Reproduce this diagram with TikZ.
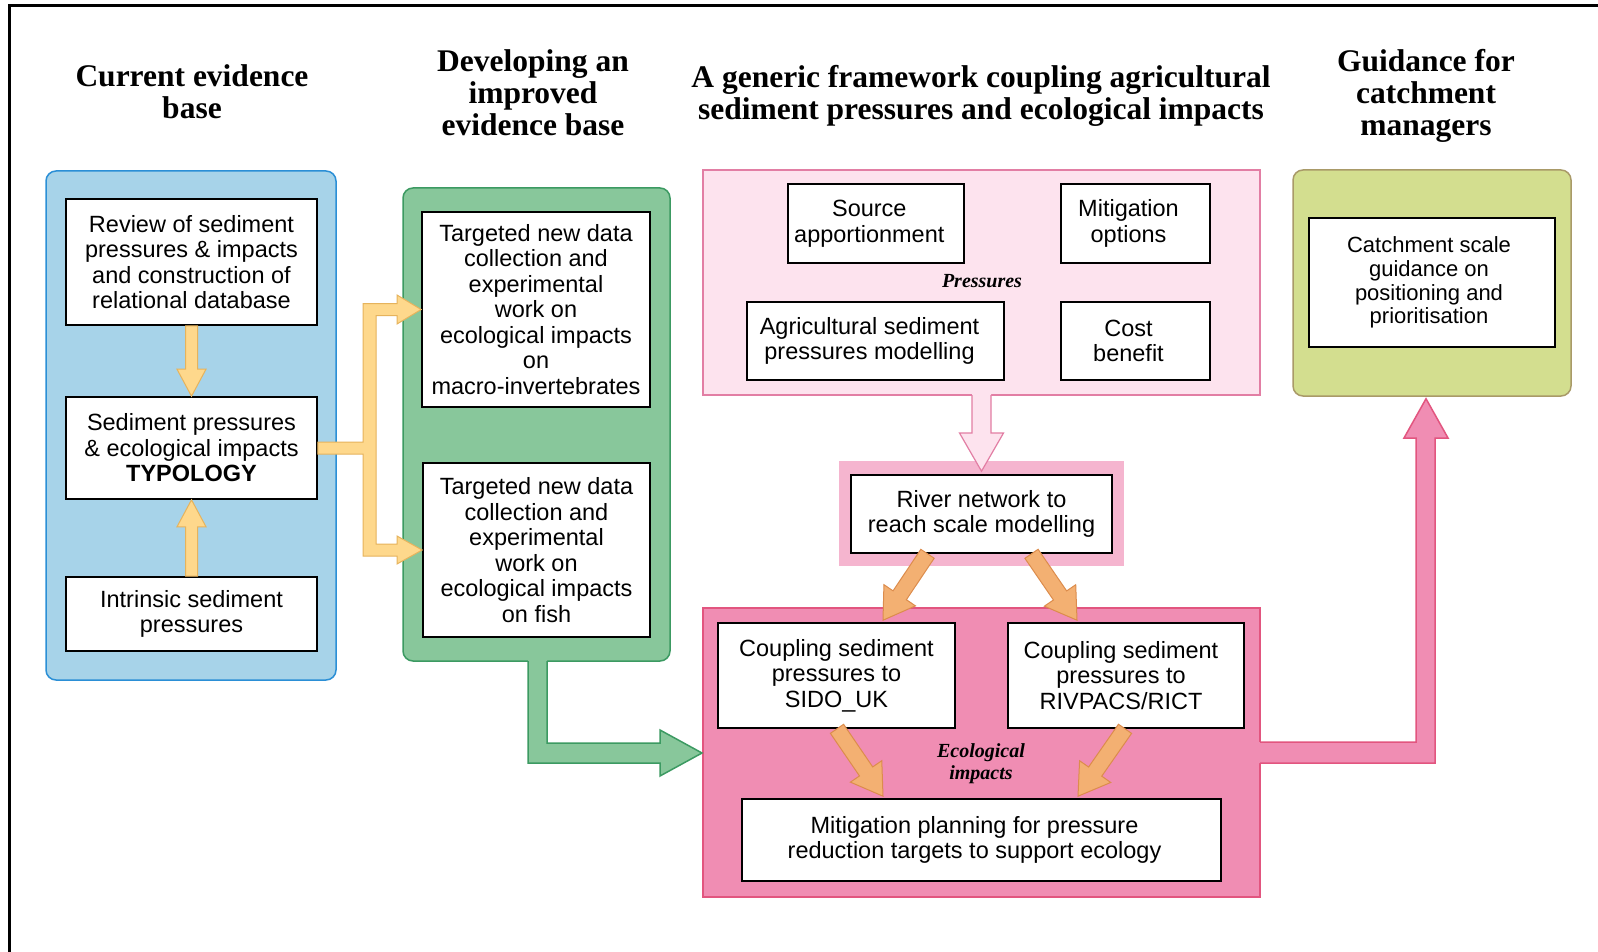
\documentclass[tikz,border=0pt]{standalone}
\usepackage{fontspec}
\setmainfont{Liberation Serif}
\setsansfont{Liberation Sans}
\usetikzlibrary{calc}
\definecolor{bluefill}{HTML}{A7D3E9}
\definecolor{bluedraw}{HTML}{2B8FD6}
\definecolor{greenfill}{HTML}{88C79B}
\definecolor{greendraw}{HTML}{3C9A62}
\definecolor{prfill}{HTML}{FDE3EE}
\definecolor{prdraw}{HTML}{E27EA4}
\definecolor{riverband}{HTML}{F5B5CF}
\definecolor{ecofill}{HTML}{F08DB3}
\definecolor{ecodraw}{HTML}{E2557F}
\definecolor{guidefill}{HTML}{D3DE8F}
\definecolor{guidedraw}{HTML}{A99A68}
\definecolor{yelfill}{HTML}{FED88C}
\definecolor{yeldraw}{HTML}{E6B35C}
\definecolor{orafill}{HTML}{F3B072}
\definecolor{oradraw}{HTML}{DC8C4C}
\newcommand\fatarr[6]{%
  \coordinate (fac) at ($(#3)!#6!(#2)$);
  \filldraw[#1] ($(#2)!#4!90:(#3)$) -- ($(fac)!#4!90:(#3)$) -- ($(fac)!#5!90:(#3)$) -- (#3)
    -- ($(fac)!#5!-90:(#3)$) -- ($(fac)!#4!-90:(#3)$) -- ($(#2)!#4!-90:(#3)$) -- cycle;}
\tikzset{
  box/.style={draw=black, line width=1.6pt, fill=white, align=center, inner sep=0pt,
    font=\sffamily\fontsize{23.5}{25.5}\selectfont},
  txt/.style={align=center, inner sep=0pt, font=\sffamily\fontsize{23.5}{25.5}\selectfont},
  hdr/.style={align=center, inner sep=0pt, font=\bfseries\fontsize{31.5}{32}\selectfont},
  lbl/.style={align=center, inner sep=0pt, font=\bfseries\itshape\fontsize{20}{22}\selectfont},
  bg/.style={inner sep=0pt, line width=1.5pt},
  yarr/.style={fill=yelfill, draw=yeldraw, line width=1pt, line join=miter},
  oarr/.style={fill=orafill, draw=oradraw, line width=1pt, line join=miter},
}
\begin{document}
\begin{tikzpicture}[x=1pt,y=-1pt]
\useasboundingbox (0,0) rectangle (1598,952);
\fill[white] (0,0) rectangle (1598,952);
\draw[line width=2.8pt] (9.7,952) -- (9.7,5.3) -- (1598,5.3);

% headers
\node[hdr] (h1) at (192,92) {Current evidence\\base};
\node[hdr] (h2) at (533,93) {Developing an\\improved\\evidence base};
\node[hdr] (h3) at (981,95.5) {A generic framework coupling agricultural\\sediment pressures and ecological impacts};
\node[hdr] (h4) at (1426,95.5) {Guidance for\\catchment\\managers};

% backgrounds
\node[bg, draw=bluedraw, fill=bluefill, rounded corners=10pt, minimum width=290pt, minimum height=509pt] (bluebox) at (191,425.5) {};
\node[bg, draw=greendraw, fill=greenfill, rounded corners=10pt, minimum width=267pt, minimum height=473pt] (greenbox) at (536.5,424.5) {};
\node[bg, draw=prdraw, fill=prfill, minimum width=557pt, minimum height=225pt] (presbox) at (981.5,282.5) {};
\node[bg, fill=riverband, minimum width=285pt, minimum height=105pt] (riverbg) at (981.5,513.5) {};
\node[bg, draw=ecodraw, fill=ecofill, minimum width=557pt, minimum height=289pt] (ecobox) at (981.5,752.5) {};
\node[bg, draw=guidedraw, fill=guidefill, rounded corners=10pt, minimum width=278pt, minimum height=226pt] (guidebox) at (1432,283) {};

% blue column
\node[box, minimum width=251pt, minimum height=126pt] (review) at (191.5,262) {Review of sediment\\pressures \& impacts\\and construction of\\relational database};
\node[box, minimum width=251pt, minimum height=102pt] (typo) at (191.5,448) {Sediment pressures\\\& ecological impacts\\\textbf{TYPOLOGY}};
\node[box, minimum width=251pt, minimum height=74pt] (intr) at (191.5,614) {Intrinsic sediment\\pressures};

% green column
\node[box, minimum width=228pt, minimum height=195pt] (g1) at (536,309.5) {Targeted new data\\collection and\\experimental\\work on\\ecological impacts\\on\\macro-invertebrates};
\node[box, minimum width=227pt, minimum height=174pt] (g2) at (536.5,550) {Targeted new data\\collection and\\experimental\\work on\\ecological impacts\\on fish};

% pressures
\node[box, minimum width=176pt, minimum height=79pt] (src) at (876,223.5) {};
\node[txt] (srct) at ($(src)+(-6.7,0)$) {Source\\apportionment};
\node[box, minimum width=149pt, minimum height=79pt] (mitopt) at (1135.5,223.5) {};
\node[txt] (mitoptt) at ($(mitopt)+(-7,0)$) {Mitigation\\options};
\node[box, minimum width=257pt, minimum height=78pt] (agri) at (875.5,341) {};
\node[txt] (agrit) at ($(agri)+(-6,0)$) {Agricultural sediment\\pressures modelling};
\node[box, minimum width=149pt, minimum height=78pt] (cost) at (1135.5,341) {};
\node[txt] (costt) at ($(cost)+(-7,0)$) {Cost\\benefit};
\node[lbl] (preslbl) at (982,281) {Pressures};

% river
\node[box, minimum width=261pt, minimum height=78pt] (river) at (981.5,514) {River network to\\reach scale modelling};

% ecological
\node[box, minimum width=237pt, minimum height=105pt] (sido) at (836.5,675.5) {Coupling sediment\\pressures to\\SIDO\_UK};
\node[box, minimum width=236pt, minimum height=105pt] (riv) at (1126,675.5) {};
\node[txt] (rivt) at ($(riv)+(-5,0)$) {Coupling sediment\\pressures to\\RIVPACS/RICT};
\node[box, minimum width=479pt, minimum height=82pt] (mitplan) at (981.5,840) {};
\node[txt] (mitplant) at ($(mitplan)+(-7,0)$) {Mitigation planning for pressure\\reduction targets to support ecology};
\node[lbl] (ecolbl) at (981,764) {Ecological\\impacts};

% guidance
\node[box, minimum width=246pt, minimum height=129pt] (catch) at (1432,282.5) {};
\node[txt, font=\sffamily\fontsize{22}{23.8}\selectfont] (catcht) at ($(catch)+(-3,0)$) {Catchment scale\\guidance on\\positioning and\\prioritisation};

% yellow arrows
\fatarr{yarr}{review.south}{typo.north}{6pt}{14.5pt}{27pt}
\fatarr{yarr}{intr.north}{typo.south}{6pt}{14.5pt}{27pt}
\filldraw[yarr] ($(typo.east)+(0,-6)$) -- (363,442) -- (363,303.5) -- (397,303.5) -- (397,295)
  -- (g1.west) -- (397,324) -- (397,315.5) -- (376,315.5) -- (376,544) -- (397,544) -- (397,536)
  -- (g2.west) -- (397,564) -- (397,556) -- (363,556) -- (363,454) -- ($(typo.east)+(0,6)$) -- cycle;

% green arrow
\coordinate (gtip) at (702,753);
\fill[greenfill] (528,655) -- (528,763) -- (660,763) -- (660,776) -- (gtip) -- (660,730) -- (660,743) -- (547,743) -- (547,655) -- cycle;
\draw[greendraw, line width=1.5pt, line join=miter] (528,661) -- (528,763) -- (660,763) -- (660,776) -- (gtip) -- (660,730) -- (660,743) -- (547,743) -- (547,661);

% pink hollow arrow
\coordinate (ptip) at ($(river.north)+(0,-3)$);
\fill[prfill] (972,390) -- (972,433) -- (959.5,433) -- (ptip) -- (1003.5,433) -- (991,433) -- (991,390) -- cycle;
\draw[prdraw, line width=1.2pt, line join=miter] (972,395) -- (972,433) -- (959.5,433) -- (ptip) -- (1003.5,433) -- (991,433) -- (991,395);

% orange arrows
\coordinate (a1) at ($(river.south)+(-54,0)$);
\coordinate (b1) at ($(sido.north)+(46.5,-2)$);
\coordinate (a2) at ($(river.south)+(50,0)$);
\coordinate (b2) at ($(riv.north)+(-49,-2)$);
\coordinate (a3) at ($(sido.south)+(0.5,0)$);
\coordinate (b3) at ($(mitplan.north)+(-98.5,-2)$);
\coordinate (a4) at ($(riv.south)+(-1,0)$);
\coordinate (b4) at ($(mitplan.north)+(96.5,-2)$);
\fatarr{oarr}{a1}{b1}{8pt}{19pt}{30pt}
\fatarr{oarr}{a2}{b2}{8pt}{19pt}{30pt}
\fatarr{oarr}{a3}{b3}{8pt}{19pt}{30pt}
\fatarr{oarr}{a4}{b4}{8pt}{19pt}{30pt}

% pink big arrow
\coordinate (ktip) at ($(guidebox.south)+(-6,2)$);
\fill[ecofill] (1254,742) -- (1416,742) -- (1416,438) -- (1404,438) -- (ktip) -- (1448,438) -- (1435,438) -- (1435,763) -- (1254,763) -- cycle;
\draw[ecodraw, line width=1.5pt, line join=miter] (1260,742) -- (1416,742) -- (1416,438) -- (1404,438) -- (ktip) -- (1448,438) -- (1435,438) -- (1435,763) -- (1260,763);
\end{tikzpicture}
\end{document}
